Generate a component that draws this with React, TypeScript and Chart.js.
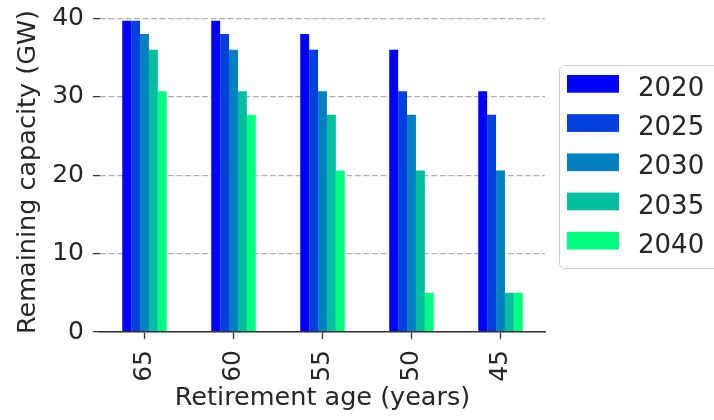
import React, { useEffect, useRef } from 'react';
import { Chart, registerables } from 'chart.js';

Chart.register(...registerables);

// Remaining capacity (GW) by assumed retirement age, one series per year
const retirementAges = ['65', '60', '55', '50', '45'];
const seriesYears = ['2020', '2025', '2030', '2035', '2040'];
const capacity2020 = [39.7, 39.7, 38.0, 36.0, 30.7];
const capacity2025 = [39.7, 38.0, 36.0, 30.7, 27.7];
const capacity2030 = [38.0, 36.0, 30.7, 27.7, 20.6];
const capacity2035 = [36.0, 30.7, 27.7, 20.6, 5.0];
const capacity2040 = [30.7, 27.7, 20.6, 5.0, 5.0];
const yTicks = [0, 10, 20, 30, 40];

// "winter" colour ramp sampled at five points
const seriesColors = ['#0000ff', '#0040df', '#0080bf', '#00bf9f', '#00ff80'];

const FONT = '"DejaVu Sans", "Noto Sans", sans-serif';
const TEXT = '#262626';

// Framed legend to the right of the plot area
const framedLegend = {
  id: 'framedLegend',
  afterDraw(chart: any) {
    const { ctx, chartArea } = chart;
    const left = chartArea.right + 14;
    const top = 65;
    const width = 180;
    const height = 203;
    ctx.save();
    ctx.beginPath();
    ctx.roundRect(left + 0.5, top + 0.5, width, height, 5);
    ctx.fillStyle = 'rgba(255,255,255,0.8)';
    ctx.fill();
    ctx.strokeStyle = '#d0d0d0';
    ctx.lineWidth = 1;
    ctx.stroke();
    ctx.font = `26px ${FONT}`;
    ctx.textBaseline = 'alphabetic';
    ctx.textAlign = 'left';
    chart.data.datasets.forEach((ds: any, i: number) => {
      const y = top + 10 + i * 39.2;
      ctx.fillStyle = ds.backgroundColor;
      ctx.fillRect(left + 8, y, 52, 17.7);
      ctx.fillStyle = TEXT;
      ctx.fillText(ds.label, left + 79, y + 21);
    });
    ctx.restore();
  },
};

export default function App() {
  const canvasRef = useRef<HTMLCanvasElement | null>(null);

  useEffect(() => {
    if (!canvasRef.current) return;
    const seriesValues = [capacity2020, capacity2025, capacity2030, capacity2035, capacity2040];

    const chart = new Chart(canvasRef.current, {
      type: 'bar',
      data: {
        labels: retirementAges,
        datasets: seriesYears.map((year, i) => ({
          label: year,
          data: seriesValues[i],
          backgroundColor: seriesColors[i],
          borderWidth: 0,
          categoryPercentage: 0.5,
          barPercentage: 1.0,
        })),
      },
      plugins: [framedLegend],
      options: {
        responsive: false,
        animation: false,
        devicePixelRatio: 1,
        layout: { padding: { left: 0, right: 169, top: 12, bottom: 0 } },
        plugins: {
          legend: { display: false },
          tooltip: { enabled: false },
        },
        scales: {
          x: {
            type: 'category',
            offset: true,
            grid: {
              offset: false,
              drawOnChartArea: false,
              drawTicks: true,
              tickLength: 7,
              tickColor: '#333333',
              tickWidth: 1.3,
            },
            border: { display: true, color: '#333333', width: 1.5, z: 1 },
            ticks: {
              autoSkip: false,
              minRotation: 90,
              maxRotation: 90,
              padding: 11,
              color: TEXT,
              font: { family: FONT, size: 25 },
            },
            title: {
              display: true,
              text: 'Retirement age (years)',
              color: TEXT,
              font: { family: FONT, size: 25.5 },
              padding: { top: 0, bottom: 6 },
            },
            afterFit: (scale: any) => {
              scale.height = 88;
              scale.paddingLeft = 0;
              scale.paddingRight = 0;
            },
          },
          y: {
            type: 'linear',
            min: 0,
            max: 40.8,
            afterBuildTicks: (scale: any) => {
              scale.ticks = yTicks.map((v) => ({ value: v }));
            },
            grid: {
              color: '#b0b0b0',
              lineWidth: 1.2,
              drawTicks: true,
              tickLength: 7,
              tickColor: '#333333',
              tickWidth: 1.3,
              tickBorderDash: [],
            },
            border: { display: false, dash: [5.9, 2.6] },
            ticks: {
              padding: 9,
              color: TEXT,
              font: { family: FONT, size: 25 },
            },
            title: {
              display: true,
              text: 'Remaining capacity (GW)',
              color: TEXT,
              font: { family: FONT, size: 25.5 },
              padding: { top: 13, bottom: 0 },
            },
            afterFit: (scale: any) => {
              scale.width = 100;
              scale.paddingTop = 0;
              scale.paddingBottom = 0;
            },
          },
        },
      },
    } as any);

    return () => chart.destroy();
  }, []);

  return (
    <div style={{ position: 'absolute', left: 0, top: 0, width: 714, height: 420, background: '#ffffff' }}>
      <canvas ref={canvasRef} width={714} height={420} style={{ display: 'block' }} />
    </div>
  );
}
